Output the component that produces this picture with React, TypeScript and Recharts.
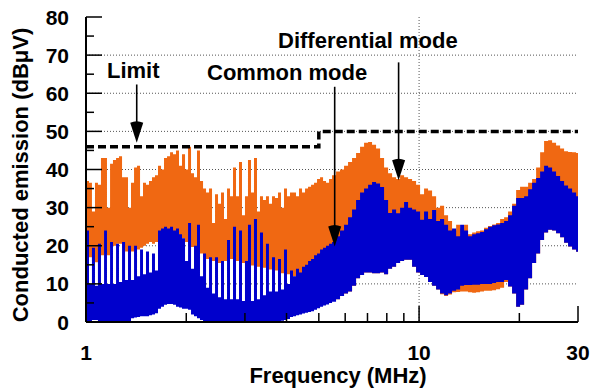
import React from 'react';
import {
  ComposedChart,
  Area,
  Line,
  XAxis,
  YAxis,
  CartesianGrid,
  ReferenceLine,
} from 'recharts';

// Sample frequencies (MHz)
const freq = [
  1.0, 1.021, 1.042, 1.064, 1.086, 1.109, 1.133, 1.156, 1.181, 1.205,
  1.231, 1.256, 1.283, 1.31, 1.337, 1.365, 1.394, 1.423, 1.453, 1.483,
  1.514, 1.546, 1.578, 1.611, 1.645, 1.68, 1.715, 1.751, 1.788, 1.825,
  1.863, 1.902, 1.942, 1.983, 2.025, 2.067, 2.11, 2.154, 2.199, 2.246,
  2.293, 2.341, 2.39, 2.44, 2.491, 2.543, 2.596, 2.651, 2.706, 2.763,
  2.821, 2.88, 2.94, 3.001, 3.064, 3.129, 3.194, 3.261, 3.329, 3.399,
  3.47, 3.542, 3.618, 3.694, 3.771, 3.85, 3.931, 4.013, 4.097, 4.183,
  4.271, 4.36, 4.452, 4.546, 4.642, 4.739, 4.838, 4.939, 5.043, 5.149,
  5.256, 5.367, 5.479,
  5.633, 5.79, 5.953, 6.12, 6.292, 6.469, 6.65, 6.837, 7.029, 7.225,
  7.428, 7.637, 7.851, 8.072, 8.298, 8.531, 8.77, 9.016, 9.268, 9.528,
  9.795, 10.07, 10.35, 10.64, 10.94, 11.25, 11.56, 11.89, 12.22, 12.56,
  12.92, 13.28, 13.65, 14.03, 14.43, 14.83, 15.25, 15.67, 16.11, 16.57,
  17.03, 17.51, 18.0, 18.5, 19.02, 19.56, 20.1, 20.67, 21.25, 21.84,
  22.46, 23.09, 23.73, 24.4, 25.08, 25.78, 26.51, 27.25, 28.01, 28.8,
  29.61, 30.0,
];

// Differential mode emission: upper and lower envelope (dBµV)
const dmHigh = [
  37, 36.5, 29, 36.5, 36, 43, 43, 30, 41.5, 42.5,
  43, 43.5, 38, 38, 30, 36.5, 40.5, 41, 33, 36.5,
  36, 37, 38, 38.5, 41, 40, 43, 43.5, 44.5, 44,
  45, 41, 44, 40, 46, 39, 38, 45, 37, 35,
  34, 35, 26, 33.5, 31, 34, 27, 35, 33, 40.5,
  33, 42, 28, 33, 42.5, 34, 43, 29, 33, 32,
  33, 31, 33, 32.5, 34, 30, 35, 33, 34, 34,
  33, 35, 34, 35, 35.5, 36, 36.5, 37.5, 38, 37,
  36.5, 37.5, 38.5,
  39.5, 40, 41, 42, 43, 44.3, 46, 47, 47.2, 46.5,
  45.5, 43, 40.5, 39, 38, 37.5, 38.5, 38, 37.5, 37,
  36, 33.5, 35, 34.5, 33, 30, 30.5, 28, 26.5, 24,
  25.5, 24.5, 25.5, 23, 23.5, 23.8, 24, 24.7, 25.2, 25.6,
  26, 27, 27.5, 29, 31, 34.6, 35.5, 35.5, 36.5, 37.5,
  40.5, 44.5, 47.5, 47.7, 47, 46.3, 45.5, 44.8, 44.6, 44.5,
  44.3, 44.3,
];
const dmLow = [
  21.5, 17, 16, 15.7, 16.5, 17.5, 18, 17.5, 19.5, 20,
  20.5, 20.5, 19.5, 18.5, 18, 18.5, 18.5, 19, 19.5, 20,
  20.5, 21, 20.5, 21, 21.5, 22, 22.5, 23, 23, 23,
  23, 22.5, 22, 21, 20, 19.7, 19, 18.5, 18, 17,
  16.5, 16.5, 16, 16, 15.5, 16, 16, 16.5, 16.5, 16,
  16, 15.5, 15.5, 15, 15, 14.8, 14.8, 14.5, 14.5, 14.2,
  14, 13.8, 13.6, 13.5, 13, 12.8, 12.8, 12.5, 12, 12,
  12, 12, 12, 12, 12, 12, 12, 12, 12, 12,
  12, 12, 12,
  6, 6.8, 7.5, 8, 9.5, 11.5, 12.3, 13, 13, 12.8,
  12.8, 13, 12.5, 14, 14.5, 15.5, 16, 16.3, 16.3, 14.5,
  13, 12.3, 11.8, 10.5, 9.5, 8.5, 7.3, 6.8, 7.2, 7.8,
  7.9, 8, 8, 7.8, 7.7, 7.8, 8, 8.2, 8.2, 8.3,
  8.6, 9, 10.5, 9.3, 7.5, 4, 4.5, 8.5, 11.5, 15.5,
  18, 21.5, 23.5, 24.2, 24, 23.3, 22.2, 20.8, 19.8, 19,
  18.4, 18.4,
];

// Common mode emission: upper and lower envelope (dBµV)
const cmHigh = [
  24, 10, 19.5, 9.5, 20.5, 10, 24, 10, 21, 10,
  20.5, 10.5, 21, 11, 20, 11, 20, 12, 19, 12.5,
  18.5, 13, 18, 13.5, 24, 24.5, 25, 24.5, 25, 24,
  24.5, 23, 22, 16, 26, 14, 20, 25.5, 12, 18,
  9, 17, 7.5, 17, 6.5, 16, 6, 21.5, 6, 25,
  6, 24, 5.5, 16, 25.5, 5.5, 27, 6, 23.5, 7,
  20.5, 8, 17, 8, 16.5, 8.5, 19, 10, 13.5, 12,
  14, 13, 14.5, 15, 16, 16.5, 17.5, 18, 19, 19.5,
  20, 20.5, 21,
  22.5, 24, 25.5, 27.5, 29.5, 32, 34, 35, 36, 36.7,
  36.3, 35.4, 32, 28.6, 29.5, 28.5, 30, 31.5, 30, 29.5,
  29, 26.8, 29, 27, 29.4, 26.5, 27, 25.5, 24, 24.5,
  22.5, 25.5, 24, 22.5, 23, 23.3, 23.6, 24.3, 25, 25.4,
  25.6, 26, 26.5, 28, 30.5, 32.5, 32.5, 33, 34.8, 36.5,
  37.8, 39.5, 41, 40.5, 39.5, 38.3, 37, 35.8, 35, 34,
  33, 32.8,
];
const cmLow = [
  0, 0, 0.5, 0.5, 0, 0, 0, 0, 0, 0,
  0, 0, 0, 0, 0, 1, 1.2, 1.3, 1.5, 1.5,
  1.5, 1.8, 2, 2.3, 3.5, 4, 4.5, 4.7, 4.7, 4.5,
  4, 3.8, 3.5, 3.5, 3.2, 2, 1.5, 1, 0.5, 0,
  0, 0, 0, 0, 0, 0, 0, 0, 0, 0,
  0, 0, 0, 0, 0, 0, 0, 0, 0, 0,
  0, 0, 0, 0, 0, 0.3, 0.5, 0.8, 1.3, 1.5,
  1.8, 2, 2.2, 2.4, 2.6, 2.8, 3.2, 3.6, 4, 4.3,
  4.6, 5, 5.3,
  6, 6.8, 7.5, 8, 9.5, 11.5, 12.3, 13, 13, 12.8,
  12.8, 13, 12.5, 14, 14.5, 15.5, 16, 16.3, 16.3, 14.5,
  13, 12.3, 11.8, 10.5, 9.5, 8.5, 7.5, 7, 7.5, 8.2,
  8.5, 9.5, 9.7, 9.7, 9.8, 9.8, 10, 10, 10, 10.2,
  10.5, 10.5, 11, 9.3, 7.5, 4, 4.5, 8.5, 11.5, 15.5,
  18, 21.5, 23.5, 24.2, 24, 23.3, 22.2, 20.8, 19.8, 19,
  18.4, 18.4,
];

// Emission limit (dBµV)
const limitFreq = [1, 5, 5, 30];
const limitLevel = [46, 46, 50, 50];

// Annotation arrows: frequency, start level, tip level
const arrowFreq = [1.42, 5.58, 8.68];
const arrowFrom = [62.3, 61.7, 68.1];
const arrowTo = [47, 19.8, 37.2];

// Axis ticks
const xTicks = [1, 2, 3, 4, 5, 6, 7, 8, 9, 10, 20, 30];
const xLabelled = [1, 10, 30];
const yTicks = [0, 5, 10, 15, 20, 25, 30, 35, 40, 45, 50, 55, 60, 65, 70, 75, 80];
const gridLevels = [10, 20, 30, 40, 50, 60, 70];

const ORANGE = '#F06812';
const BLUE = '#0000CC';
const FONT = '"Liberation Sans", Arial, Helvetica, sans-serif';

const spectrum = freq.map((f, i) => ({
  f,
  dm: [dmLow[i], dmHigh[i]],
  cm: [cmLow[i], cmHigh[i]],
}));
const limitData = limitFreq.map((f, i) => ({ f, limit: limitLevel[i] }));

const isMajorY = (v: number) => v % 10 === 0;

const BottomTick = (props: any) => {
  const { x, y, payload } = props;
  const v = payload.value as number;
  const major = xLabelled.includes(v);
  return (
    <g>
      <line x1={x} y1={y} x2={x} y2={y - (major ? 16 : 9)} stroke="#000" strokeWidth={1.5} />
      {major && (
        <text
          x={x}
          y={y + 38}
          textAnchor="middle"
          fontSize={21}
          fontWeight="bold"
          fontFamily={FONT}
          fill="#000"
        >
          {v}
        </text>
      )}
    </g>
  );
};

const TopTick = (props: any) => {
  const { x, y, payload } = props;
  const v = payload.value as number;
  const major = xLabelled.includes(v);
  return <line x1={x} y1={y} x2={x} y2={y + (major ? 16 : 9)} stroke="#000" strokeWidth={1.5} />;
};

const LeftTick = (props: any) => {
  const { x, y, payload } = props;
  const v = payload.value as number;
  const major = isMajorY(v);
  return (
    <g>
      <line x1={x} y1={y} x2={x + (major ? 16 : 8)} y2={y} stroke="#000" strokeWidth={1.5} />
      {major && (
        <text
          x={x - 17}
          y={y + 7.5}
          textAnchor="end"
          fontSize={21}
          fontWeight="bold"
          fontFamily={FONT}
          fill="#000"
        >
          {v}
        </text>
      )}
    </g>
  );
};

const RightTick = (props: any) => {
  const { x, y, payload } = props;
  const v = payload.value as number;
  const major = isMajorY(v);
  return <line x1={x} y1={y} x2={x - (major ? 16 : 8)} y2={y} stroke="#000" strokeWidth={1.5} />;
};

const ArrowShape = (p: any) => {
  const { x1, y1, x2, y2 } = p;
  if ([x1, y1, x2, y2].some((n) => typeof n !== 'number' || Number.isNaN(n))) return null;
  const headH = 20;
  const headW = 13;
  return (
    <g>
      <line x1={x1} y1={y1} x2={x2} y2={y2 - headH + 4} stroke="#000" strokeWidth={1.6} />
      <path
        d={`M${x2 - headW / 2},${y2 - headH} Q${x2},${y2 - headH - 3} ${x2 + headW / 2},${y2 - headH} L${x2},${y2} Z`}
        fill="#000"
      />
    </g>
  );
};

const textStyle: React.CSSProperties = {
  fontFamily: FONT,
  fontSize: 22,
  fontWeight: 'bold',
  fill: '#000',
};

export default function App() {
  return (
    <div style={{ position: 'absolute', left: 0, top: 0, width: 591, height: 388, background: '#fff' }}>
      <ComposedChart
        width={591}
        height={388}
        data={spectrum}
        margin={{ top: 17, right: 13, bottom: 0, left: 0 }}
      >
        <CartesianGrid
          horizontalValues={gridLevels}
          verticalValues={[10]}
          stroke="#555"
          strokeDasharray="1 2"
        />
        <Area
          dataKey="dm"
          type="stepAfter"
          stroke="none"
          fill={ORANGE}
          fillOpacity={1}
          isAnimationActive={false}
        />
        <Area
          dataKey="cm"
          type="stepAfter"
          stroke="none"
          fill={BLUE}
          fillOpacity={1}
          isAnimationActive={false}
        />
        <Line
          data={limitData}
          dataKey="limit"
          type="linear"
          stroke="#000"
          strokeWidth={3.5}
          strokeDasharray="8 4"
          dot={false}
          activeDot={false}
          isAnimationActive={false}
        />
        {arrowFreq.map((f, i) => (
          <ReferenceLine
            key={i}
            segment={[
              { x: f, y: arrowFrom[i] },
              { x: f, y: arrowTo[i] },
            ]}
            shape={ArrowShape}
          />
        ))}
        <XAxis
          dataKey="f"
          type="number"
          scale="log"
          domain={[1, 30]}
          allowDataOverflow
          ticks={xTicks}
          interval={0}
          tick={BottomTick}
          tickLine={false}
          tickSize={0}
          tickMargin={0}
          axisLine={{ stroke: '#000', strokeWidth: 2 }}
          height={66}
        />
        <XAxis
          xAxisId="top"
          orientation="top"
          dataKey="f"
          type="number"
          scale="log"
          domain={[1, 30]}
          allowDataOverflow
          ticks={xTicks}
          interval={0}
          tick={TopTick}
          tickLine={false}
          tickSize={0}
          tickMargin={0}
          axisLine={{ stroke: '#000', strokeWidth: 2 }}
          height={0}
        />
        <YAxis
          type="number"
          domain={[0, 80]}
          allowDataOverflow
          ticks={yTicks}
          interval={0}
          tick={LeftTick}
          tickLine={false}
          tickSize={0}
          tickMargin={0}
          axisLine={{ stroke: '#000', strokeWidth: 2 }}
          width={86}
        />
        <YAxis
          yAxisId="right"
          orientation="right"
          type="number"
          domain={[0, 80]}
          allowDataOverflow
          ticks={yTicks}
          interval={0}
          tick={RightTick}
          tickLine={false}
          tickSize={0}
          tickMargin={0}
          axisLine={{ stroke: '#000', strokeWidth: 2 }}
          width={0}
        />
      </ComposedChart>
      <svg
        width={591}
        height={388}
        style={{ position: 'absolute', left: 0, top: 0, pointerEvents: 'none' }}
      >
        <text x={107} y={78} style={textStyle}>Limit</text>
        <text x={207} y={80} style={textStyle}>Common mode</text>
        <text x={278} y={48} style={textStyle}>Differential mode</text>
        <text x={338} y={383} textAnchor="middle" style={textStyle}>Frequency (MHz)</text>
        <text
          x={28}
          y={175}
          textAnchor="middle"
          transform="rotate(-90 28 175)"
          style={textStyle}
        >
          Conducted emission (dBμV)
        </text>
      </svg>
    </div>
  );
}
